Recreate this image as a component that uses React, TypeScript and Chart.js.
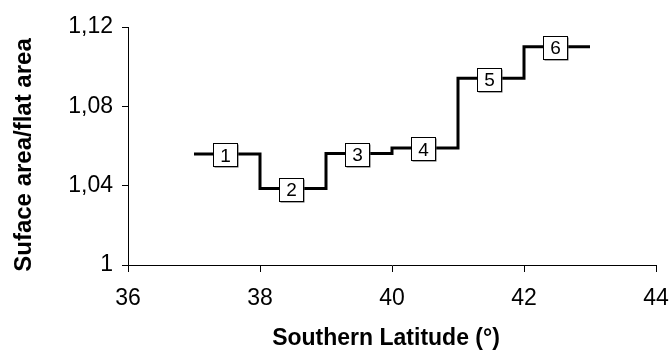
import React, { useEffect, useRef } from "react";
import { Chart, registerables } from "chart.js";

Chart.register(...registerables);

const latitudes = [37, 38, 39, 40, 41, 42, 43];
const ratios = [1.056, 1.0386, 1.0562, 1.059, 1.0941, 1.1101, 1.1101];
const segmentLabels = ["1", "2", "3", "4", "5", "6"];
const xTicks = [36, 38, 40, 42, 44];
const yTicks = [1, 1.04, 1.08, 1.12];
const xTitle = "Southern Latitude (°)";
const yTitle = "Suface area/flat area";

const FONT = "'Liberation Sans', Arial, Helvetica, sans-serif";

const boxLabels = {
  id: "boxLabels",
  afterDatasetsDraw(chart: any) {
    const { ctx, scales } = chart;
    const xs = scales.x;
    const ys = scales.y;
    ctx.save();
    ctx.font = `19px ${FONT}`;
    ctx.textAlign = "center";
    ctx.textBaseline = "middle";
    segmentLabels.forEach((lab, i) => {
      const mid = (latitudes[i] + latitudes[i + 1]) / 2;
      const px = xs.getPixelForValue(mid) - 2;
      const py = ys.getPixelForValue(ratios[i]) + 1;
      const w = 24;
      const h = 23;
      const x0 = Math.round(px - w / 2) + 0.5;
      const y0 = Math.round(py - h / 2) + 0.5;
      ctx.fillStyle = "#555";
      ctx.fillRect(x0 + 1, y0 + 1, w, h);
      ctx.fillStyle = "#ffffff";
      ctx.fillRect(x0, y0, w, h);
      ctx.strokeStyle = "#000";
      ctx.lineWidth = 1;
      ctx.strokeRect(x0, y0, w, h);
      ctx.fillStyle = "#000";
      ctx.fillText(lab, px + 0.5, py + 1.5);
    });
    ctx.restore();
  },
};

const axisTitles = {
  id: "axisTitles",
  afterDraw(chart: any) {
    const { ctx, chartArea } = chart;
    ctx.save();
    ctx.fillStyle = "#000";
    ctx.textAlign = "center";
    ctx.textBaseline = "alphabetic";
    ctx.font = `bold 23px ${FONT}`;
    ctx.fillText(xTitle, (chartArea.left + chartArea.right) / 2 - 6, 345);
    ctx.translate(31, (chartArea.top + chartArea.bottom) / 2 + 9);
    ctx.rotate(-Math.PI / 2);
    ctx.font = `bold 24px ${FONT}`;
    ctx.fillText(yTitle, 0, 0);
    ctx.restore();
  },
};

export default function App() {
  const ref = useRef<HTMLCanvasElement>(null);
  useEffect(() => {
    if (!ref.current) return;
    const chart = new Chart(ref.current, {
      type: "line",
      data: {
        datasets: [
          {
            data: latitudes.map((x, i) => ({ x, y: ratios[i] })),
            stepped: "before",
            borderColor: "#000",
            borderWidth: 3,
            pointRadius: 0,
            fill: false,
          },
        ],
      },
      options: {
        animation: false,
        responsive: false,
        maintainAspectRatio: false,
        layout: { padding: { top: 27, right: 15, left: 0, bottom: 0 } },
        plugins: { legend: { display: false }, tooltip: { enabled: false } },
        scales: {
          x: {
            type: "linear",
            min: 36,
            max: 44,
            afterBuildTicks: (s: any) => {
              s.ticks = xTicks.map((v) => ({ value: v }));
            },
            afterFit: (s: any) => {
              s.height = 89;
              s.paddingLeft = 0;
              s.paddingRight = 0;
            },
            ticks: {
              color: "#000",
              font: { family: FONT, size: 23 },
              padding: 13,
              maxRotation: 0,
              autoSkip: false,
            },
            grid: {
              display: true,
              drawOnChartArea: false,
              drawTicks: true,
              tickLength: 7,
              color: "#000",
              lineWidth: 1,
            },
            border: { display: true, color: "#000", width: 1 },
            title: { display: false },
          },
          y: {
            type: "linear",
            min: 1,
            max: 1.12,
            afterBuildTicks: (s: any) => {
              s.ticks = yTicks.map((v) => ({ value: v }));
            },
            afterFit: (s: any) => {
              s.width = 128;
              s.paddingTop = 0;
              s.paddingBottom = 0;
            },
            ticks: {
              color: "#000",
              font: { family: FONT, size: 23 },
              padding: 9,
              autoSkip: false,
              callback: (v: any) =>
                Number(v) === 1 ? "1" : Number(v).toFixed(2).replace(".", ","),
            },
            grid: {
              display: true,
              drawOnChartArea: false,
              drawTicks: true,
              tickLength: 6,
              color: "#000",
              lineWidth: 1,
            },
            border: { display: true, color: "#000", width: 1 },
            title: { display: false },
          },
        },
      },
      plugins: [boxLabels, axisTitles],
    });
    return () => chart.destroy();
  }, []);
  return (
    <div style={{ position: "absolute", left: 0, top: 0, width: 671, height: 354, background: "#fff" }}>
      <canvas ref={ref} width={671} height={354} style={{ width: 671, height: 354 }} />
    </div>
  );
}
